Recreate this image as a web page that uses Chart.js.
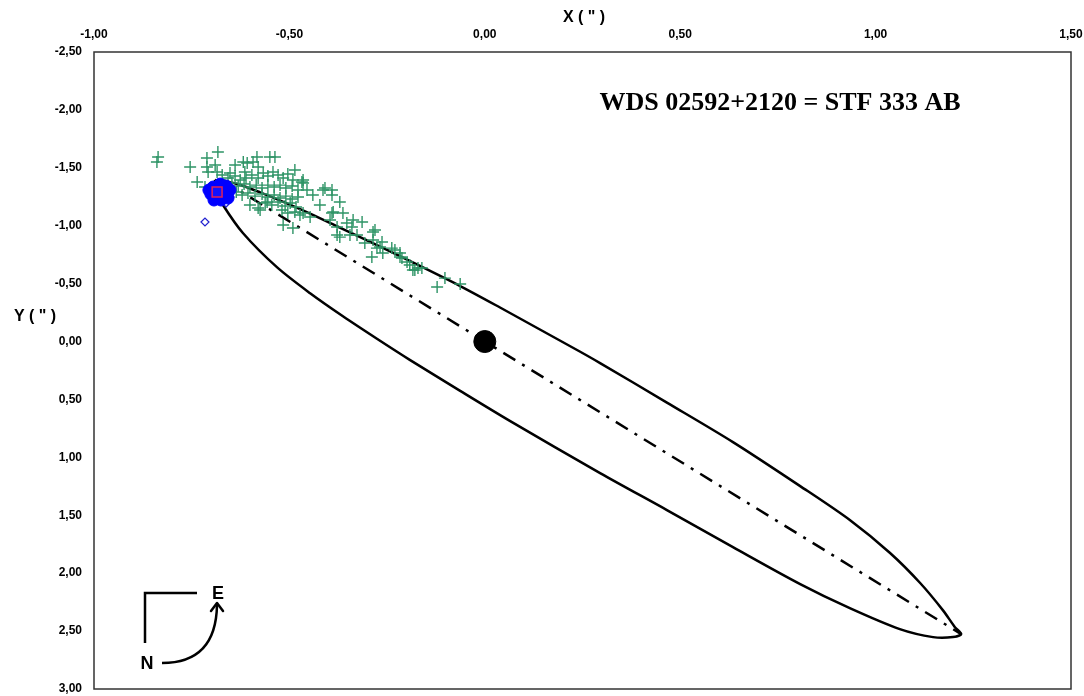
<!DOCTYPE html>
<html>
<head>
<meta charset="utf-8">
<script src="https://cdn.jsdelivr.net/npm/chart.js@4.4.0/dist/chart.umd.min.js"></script>
<style>
html,body{margin:0;padding:0;background:#fff;}
#wrap{width:1084px;height:696px;position:relative;}
</style>
</head>
<body>
<div id="wrap"><canvas id="c" width="1084" height="696"></canvas></div>
<script>
// ---- data ----
const titleText = 'WDS 02592+2120 = STF 333 AB';
const xAxisTitle = 'X ( " )';
const yAxisTitle = 'Y ( " )';
const xTickValues = [-1, -0.5, 0, 0.5, 1, 1.5];
const xTickLabels = ['-1,00','-0,50','0,00','0,50','1,00','1,50'];
const yTickValues = [-2.5, -2, -1.5, -1, -0.5, 0, 0.5, 1, 1.5, 2, 2.5, 3];
const yTickLabels = ['-2,50','-2,00','-1,50','-1,00','-0,50','0,00','0,50','1,00','1,50','2,00','2,50','3,00'];

// apparent orbit (ellipse)
const orbitX = [-0.690,-0.665,-0.626,-0.575,-0.511,-0.447,-0.371,-0.319,-0.179,-0.063,0.039,0.141,0.243,0.295,0.466,0.635,0.807,0.934,1.037,1.114,1.172,1.203,1.219,
                1.198,1.147,1.062,0.934,0.807,0.635,0.466,0.295,0.064,-0.063,-0.192,-0.276,-0.363,-0.447,-0.532,-0.619,-0.670,-0.692,-0.690];
const orbitY = [-1.395,-1.385,-1.352,-1.288,-1.200,-1.105,-0.984,-0.902,-0.674,-0.479,-0.294,-0.104,0.086,0.186,0.527,0.868,1.248,1.541,1.826,2.085,2.319,2.466,2.526,
                2.552,2.552,2.483,2.302,2.094,1.775,1.455,1.136,0.685,0.426,0.158,-0.024,-0.218,-0.417,-0.642,-0.937,-1.179,-1.320,-1.395];

// line of apsides
const apsidesX = [-0.672, 1.219];
const apsidesY = [-1.394, 2.526];

// primary star
const primaryX = [0];
const primaryY = [0];

// micrometric measures (green crosses)
const microX = [-0.836,-0.839,-0.754,-0.683,-0.711,-0.711,-0.690,-0.708,-0.685,-0.736,-0.716,-0.639,-0.618,-0.608,-0.593,-0.583,-0.550,-0.537,-0.580,-0.614,-0.652,-0.486,-0.465,-0.491,-0.468,-0.516,-0.491,-0.580,-0.557,-0.575,-0.601,
  -0.672,-0.657,-0.639,-0.626,-0.611,-0.596,-0.580,-0.567,-0.555,-0.542,-0.529,-0.516,-0.504,
  -0.665,-0.647,-0.631,-0.616,-0.601,-0.585,-0.570,-0.555,-0.539,-0.524,-0.509,-0.493,-0.478,
  -0.636,-0.621,-0.606,-0.588,-0.570,-0.555,-0.539,-0.524,-0.509,-0.493,-0.478,
  -0.562,-0.545,-0.529,-0.511,-0.498,-0.483,-0.519,-0.504,-0.486,-0.473,
  -0.465,-0.455,-0.440,-0.414,-0.391,-0.391,-0.409,-0.371,-0.363,-0.391,-0.422,-0.465,-0.447,
  -0.337,-0.314,-0.340,-0.378,-0.396,-0.371,-0.327,-0.388,-0.353,-0.378,-0.345,
  -0.281,-0.286,-0.263,-0.268,-0.289,-0.230,-0.217,-0.199,-0.179,-0.307,-0.286,-0.276,-0.261,-0.238,-0.217,-0.212,-0.192,-0.184,-0.171,
  -0.102,-0.122,-0.161,-0.063];
const microY = [-1.593,-1.550,-1.507,-1.636,-1.585,-1.507,-1.524,-1.464,-1.464,-1.377,-1.334,-1.524,-1.550,-1.541,-1.550,-1.593,-1.593,-1.593,-1.507,-1.464,-1.455,-1.481,-1.395,-1.395,-1.377,-1.006,-0.980,-1.153,-1.205,-1.136,-1.179,
  -1.438,-1.412,-1.429,-1.395,-1.412,-1.438,-1.412,-1.455,-1.429,-1.464,-1.438,-1.412,-1.446,
  -1.351,-1.369,-1.343,-1.360,-1.334,-1.351,-1.326,-1.351,-1.334,-1.351,-1.326,-1.343,-1.308,
  -1.291,-1.265,-1.282,-1.256,-1.274,-1.248,-1.265,-1.239,-1.256,-1.231,-1.248,
  -1.196,-1.179,-1.205,-1.170,-1.196,-1.162,-1.136,-1.110,-1.118,-1.092,
  -1.369,-1.308,-1.265,-1.308,-1.308,-1.265,-1.326,-1.205,-1.110,-1.110,-1.179,-1.110,-1.075,
  -1.049,-1.032,-0.989,-0.989,-1.049,-0.902,-0.920,-1.118,-1.023,-0.920,-0.920,
  -0.963,-0.877,-0.859,-0.816,-0.730,-0.790,-0.730,-0.687,-0.618,-0.851,-0.946,-0.807,-0.764,-0.807,-0.764,-0.721,-0.661,-0.618,-0.635,
  -0.548,-0.471,-0.635,-0.497];

// interferometric measures (blue filled)
const speckleX = [-0.695,-0.677,-0.662,-0.701,-0.683,-0.665,-0.693,-0.675,-0.657,-0.652,-0.706,-0.672];
const speckleY = [-1.334,-1.360,-1.343,-1.274,-1.265,-1.282,-1.222,-1.222,-1.239,-1.308,-1.308,-1.317];

// other measures (blue open diamonds)
const otherX = [-0.716,-0.652,-0.662];
const otherY = [-1.032,-1.248,-1.196];

// last measure (red square)
const lastX = [-0.685];
const lastY = [-1.291];

const pts = (xs, ys) => xs.map((x, i) => ({x, y: ys[i]}));
const lookup = (vals, labs, v) => {
  const i = vals.findIndex(t => Math.abs(t - v) < 1e-6);
  return i >= 0 ? labs[i] : '';
};

const deco = {
  id: 'deco',
  afterDraw(chart) {
    const {ctx, chartArea: a} = chart;
    ctx.save();
    ctx.strokeStyle = '#333';
    ctx.lineWidth = 1.5;
    ctx.strokeRect(a.left, a.top, a.right - a.left, a.bottom - a.top);

    ctx.fillStyle = '#000';
    ctx.textAlign = 'center';
    ctx.textBaseline = 'middle';
    ctx.font = 'bold 26px "Liberation Serif", "Times New Roman", serif';
    ctx.fillText(titleText, a.left + 686, a.top + 51);

    ctx.font = 'bold 16px "Liberation Sans", Arial, sans-serif';
    ctx.fillText(xAxisTitle, a.left + 490, 18);
    ctx.fillText(yAxisTitle, 35, 317);

    // compass
    const L = a.left, B = a.bottom;
    ctx.strokeStyle = '#000';
    ctx.lineWidth = 2.5;
    ctx.lineCap = 'butt';
    ctx.beginPath();
    ctx.moveTo(L + 51, B - 46);
    ctx.lineTo(L + 51, B - 96);
    ctx.lineTo(L + 103, B - 96);
    ctx.stroke();
    ctx.beginPath();
    ctx.moveTo(L + 68, B - 26);
    ctx.quadraticCurveTo(L + 122, B - 26, L + 123, B - 84);
    ctx.stroke();
    ctx.lineCap = 'round';
    ctx.lineJoin = 'round';
    ctx.beginPath();
    ctx.moveTo(L + 117, B - 78);
    ctx.lineTo(L + 123, B - 86);
    ctx.lineTo(L + 129, B - 78);
    ctx.stroke();
    ctx.font = 'bold 18px "Liberation Sans", Arial, sans-serif';
    ctx.fillText('E', L + 124, B - 95);
    ctx.fillText('N', L + 53, B - 25);
    ctx.restore();
  }
};

new Chart(document.getElementById('c'), {
  type: 'scatter',
  data: {
    datasets: [
      {label: 'last', data: pts(lastX, lastY), pointStyle: 'rect', pointRadius: 7, backgroundColor: '#1010ff', borderColor: '#e0205a', borderWidth: 1.5, showLine: false},
      {label: 'speckle', data: pts(speckleX, speckleY), pointStyle: 'circle', pointRadius: 6, backgroundColor: '#0000ff', borderColor: '#0000ff', borderWidth: 1, showLine: false},
      {label: 'other', data: pts(otherX, otherY), pointStyle: 'rectRot', pointRadius: 4, backgroundColor: 'rgba(255,255,255,0)', borderColor: '#2020d0', borderWidth: 1.2, showLine: false},
      {label: 'micro', data: pts(microX, microY), pointStyle: 'cross', pointRadius: 6, borderColor: '#2e9466', backgroundColor: '#2e9466', borderWidth: 1.4, showLine: false},
      {label: 'primary', data: pts(primaryX, primaryY), pointStyle: 'circle', pointRadius: 11, backgroundColor: '#000', borderColor: '#000', showLine: false},
      {label: 'orbit', data: pts(orbitX, orbitY), showLine: true, pointRadius: 0, borderColor: '#000', borderWidth: 2.5, tension: 0.3, fill: false},
      {label: 'apsides', data: pts(apsidesX, apsidesY), showLine: true, pointRadius: 0, borderColor: '#000', borderWidth: 2.5, borderDash: [14, 8, 3, 8], fill: false}
    ]
  },
  options: {
    responsive: false,
    animation: false,
    events: [],
    layout: {autoPadding: false, padding: {left: 0, right: 13, top: 0, bottom: 7}},
    plugins: {legend: {display: false}, tooltip: {enabled: false}, title: {display: false}},
    scales: {
      x: {
        type: 'linear', position: 'top', min: -1, max: 1.5,
        afterFit(s) { s.height = 52; s.paddingLeft = 0; s.paddingRight = 0; },
        grid: {display: false, drawTicks: false, tickLength: 0},
        border: {display: false},
        ticks: {stepSize: 0.5, padding: 10, color: '#000', maxRotation: 0,
          font: {family: '"Liberation Sans", Arial, sans-serif', size: 12, weight: 'bold'},
          callback: (v) => lookup(xTickValues, xTickLabels, v)}
      },
      y: {
        type: 'linear', reverse: true, min: -2.5, max: 3,
        afterFit(s) { s.width = 94; s.paddingTop = 0; s.paddingBottom = 0; },
        grid: {display: false, drawTicks: false, tickLength: 0},
        border: {display: false},
        ticks: {stepSize: 0.5, padding: 12, color: '#000',
          font: {family: '"Liberation Sans", Arial, sans-serif', size: 12, weight: 'bold'},
          callback: (v) => lookup(yTickValues, yTickLabels, v)}
      }
    }
  },
  plugins: [deco]
});
</script>
</body>
</html>
